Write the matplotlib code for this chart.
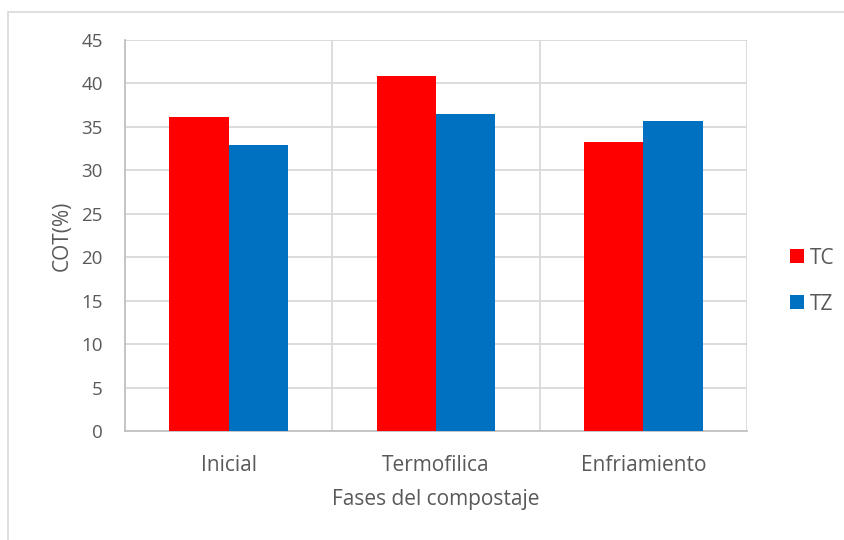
import numpy as np
import matplotlib
matplotlib.use("Agg")
import matplotlib.pyplot as plt
from matplotlib.patches import Rectangle

# COT por fase del compostaje
fases = ["Inicial", "Termofilica", "Enfriamiento"]
tc = [36.1, 40.9, 33.3]
tz = [32.9, 36.5, 35.7]
yticks = [0, 5, 10, 15, 20, 25, 30, 35, 40, 45]

C_TC = "#FF0000"
C_TZ = "#0070C0"
C_TXT = "#595959"
C_GRID = "#D9D9D9"

plt.rcParams.update({
    "font.family": ["Open Sans", "DejaVu Sans"],
    "font.size": 15,
})

fig = plt.figure(figsize=(8.45, 5.40), dpi=100)
ax = fig.add_axes([125 / 845, 1 - 431 / 540, 622 / 845, 391 / 540])

# borde del área del gráfico (solo arriba e izquierda visibles)
fig.patches.append(Rectangle((8 / 845, -0.1), 1.2, 1 - 11.5 / 540 + 0.1,
                             transform=fig.transFigure, fill=False,
                             edgecolor=C_GRID, linewidth=1.2))

x = np.arange(len(fases))
w = 1 / 3.5  # ancho de serie con 150% de separación
ax.bar(x - w / 2, tc, w, color=C_TC, label="TC", zorder=3)
ax.bar(x + w / 2, tz, w, color=C_TZ, label="TZ", zorder=3)

ax.set_xlim(-0.5, len(fases) - 0.5)
ax.set_ylim(0, 45)
ax.set_yticks(yticks)
ax.set_xticks(x)
ax.set_xticklabels(fases)

# rejilla horizontal y separadores de categoría
for yv in yticks[1:]:
    ax.axhline(yv, color=C_GRID, linewidth=1.3, zorder=1)
for xv in np.arange(0.5, len(fases) - 0.5, 1.0):
    ax.axvline(xv, color=C_GRID, linewidth=1.3, zorder=1)
ax.axvline(len(fases) - 0.5, color=C_GRID, linewidth=1.3, zorder=1)

for side in ["top", "right"]:
    ax.spines[side].set_visible(False)
ax.spines["left"].set_color("#BFBFBF")
ax.spines["bottom"].set_color("#BFBFBF")
ax.spines["left"].set_linewidth(1.3)
ax.spines["bottom"].set_linewidth(1.3)

ax.tick_params(axis="both", length=0, colors=C_TXT)
ax.tick_params(axis="y", labelsize=13.5, pad=16)
ax.tick_params(axis="x", labelsize=15, pad=17)

ax.set_ylabel("COT(%)", color=C_TXT, fontsize=15, labelpad=6)
ax.set_xlabel("Fases del compostaje", color=C_TXT, fontsize=15, labelpad=10)

leg = fig.legend(loc="center left", bbox_to_anchor=(780 / 845, 1 - 281 / 540),
                 frameon=False, fontsize=15, handlelength=0.64,
                 handleheight=0.64, handletextpad=0.3, labelspacing=1.2,
                 borderpad=0)
for t in leg.get_texts():
    t.set_color(C_TXT)

fig.savefig("out.png", dpi=100)
